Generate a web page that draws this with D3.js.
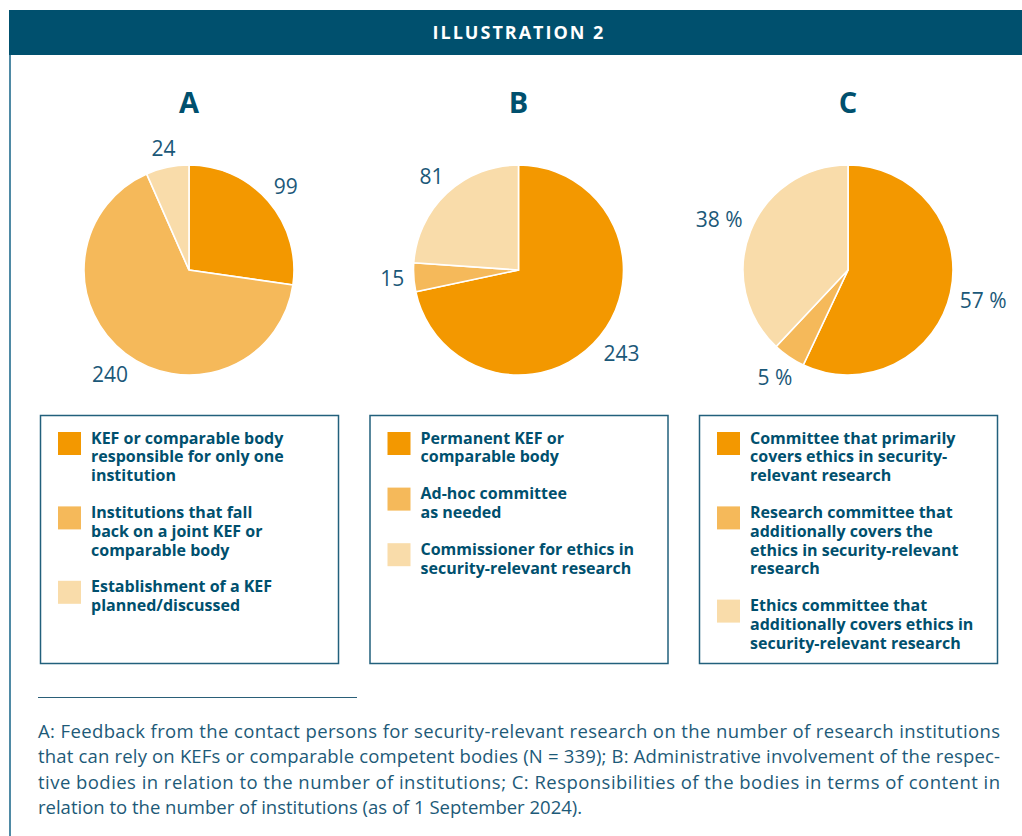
<!DOCTYPE html>
<meta charset="utf-8">
<style>
  body { margin: 0; background: #fff; }
  text { font-family: "Open Sans", "Noto Sans", sans-serif; }
</style>
<script src="https://d3js.org/d3.v7.min.js"></script>
<div id="chart"></div>
<script>

// panel letters
var panels = ["A", "B", "C"];

// slice values, clockwise from 12 o'clock
var valuesA = [99, 240, 24];
var valuesB = [243, 15, 81];
var valuesC = [57, 5, 38];
var suffix = ["", "", " %"];

// legend entries, already broken into lines
var legendA = [
  ["KEF or comparable body", "responsible for only one", "institution"],
  ["Institutions that fall", "back on a joint KEF or", "comparable body"],
  ["Establishment of a KEF", "planned/discussed"]
];
var legendB = [
  ["Permanent KEF or", "comparable body"],
  ["Ad-hoc committee", "as needed"],
  ["Commissioner for ethics in", "security-relevant research"]
];
var legendC = [
  ["Committee that primarily", "covers ethics in security-", "relevant research"],
  ["Research committee that", "additionally covers the", "ethics in security-relevant", "research"],
  ["Ethics committee that", "additionally covers ethics in", "security-relevant research"]
];

var footnote = [
  "A: Feedback from the contact persons for security-relevant research on the number of research institutions",
  "that can rely on KEFs or comparable competent bodies (N = 339); B: Administrative involvement of the respec-",
  "tive bodies in relation to the number of institutions; C: Responsibilities of the bodies in terms of content in",
  "relation to the number of institutions (as of 1 September 2024)."
];

var colors = ["#f39800", "#f5b95a", "#f9dcaa"];
var navy = "#00506e";

var width = 1022, height = 836;

var svg = d3.select("#chart")
  .append("svg")
    .attr("width", width)
    .attr("height", height);

// header bar + left rule
svg.append("rect")
  .attr("x", 9).attr("y", 10)
  .attr("width", width - 9).attr("height", 45)
  .attr("fill", navy);
svg.append("text")
  .attr("x", 519).attr("y", 39)
  .attr("text-anchor", "middle")
  .attr("fill", "#fff")
  .style("font-size", "18px")
  .style("font-weight", 700)
  .style("letter-spacing", "2px")
  .text("ILLUSTRATION 2");
svg.append("line")
  .attr("x1", 10).attr("x2", 10)
  .attr("y1", 55).attr("y2", height)
  .attr("stroke", "#4f8aa5")
  .attr("stroke-width", 2);

// one column per panel
var x = d3.scalePoint()
  .domain(panels)
  .range([189, 848]);

var radius = 105;
var cy = 270;

var pie = d3.pie().sort(null).value(function(d) { return d; });
var arc = d3.arc().innerRadius(0).outerRadius(radius);

var allValues = [valuesA, valuesB, valuesC];
var allLegends = [legendA, legendB, legendC];

panels.forEach(function(p, i) {
  var cx = x(p);

  // big letter
  svg.append("text")
    .attr("x", cx).attr("y", 113)
    .attr("text-anchor", "middle")
    .attr("fill", navy)
    .style("font-size", "29px")
    .style("font-weight", 700)
    .text(p);

  var g = svg.append("g")
    .attr("transform", "translate(" + cx + "," + cy + ")");

  var arcs = pie(allValues[i]);

  g.selectAll("path")
    .data(arcs)
    .enter()
    .append("path")
      .attr("d", arc)
      .attr("fill", function(d, j) { return colors[j]; })
      .attr("stroke", "#fff")
      .attr("stroke-width", 1.6);

  // value labels pushed just outside the rim
  g.selectAll("text.val")
    .data(arcs)
    .enter()
    .append("text")
      .attr("class", "val")
      .attr("fill", "#1b5878")
      .attr("text-anchor", "middle")
      .attr("dy", "0.36em")
      .style("font-size", "21px")
      .text(function(d) { return d.value + suffix[i]; })
      .each(function(d) {
        var w = this.getComputedTextLength(), h = 15;
        var a = (d.startAngle + d.endAngle) / 2;
        var dist = radius + 9 + (w / 2) * Math.abs(Math.sin(a)) + (h / 2) * Math.abs(Math.cos(a));
        d3.select(this)
          .attr("x", dist * Math.sin(a))
          .attr("y", -dist * Math.cos(a));
      });

  // legend box
  var bx = cx - 149;
  var lg = svg.append("g")
    .attr("transform", "translate(" + bx + ",415)");
  lg.append("rect")
    .attr("x", 0.5).attr("y", 0.5)
    .attr("width", 298).attr("height", 248)
    .attr("fill", "none")
    .attr("stroke", "#22607c")
    .attr("stroke-width", 1.5);

  var lineH = 18.8, itemGap = 18;
  var yy = 17;
  allLegends[i].forEach(function(lines, j) {
    lg.append("rect")
      .attr("x", 18).attr("y", yy)
      .attr("width", 23).attr("height", 23)
      .attr("fill", colors[j]);
    var t = lg.append("text")
      .attr("fill", navy)
      .style("font-size", "16px")
      .style("font-weight", 700);
    lines.forEach(function(l, k) {
      t.append("tspan")
        .attr("x", 51)
        .attr("y", yy + 11.5 + k * lineH)
        .text(l);
    });
    yy += lines.length * lineH + itemGap;
  });
});

// footnote
svg.append("line")
  .attr("x1", 38).attr("x2", 357)
  .attr("y1", 697.5).attr("y2", 697.5)
  .attr("stroke", "#2a5f78")
  .attr("stroke-width", 1);

svg.selectAll("text.foot")
  .data(footnote)
  .enter()
  .append("text")
    .attr("class", "foot")
    .attr("x", 38)
    .attr("y", function(d, i) { return 738 + i * 25.3; })
    .attr("fill", "#1d5a78")
    .style("font-size", "18.5px")
    .text(function(d) { return d; })
    .each(function(d, i) {
      if (i < footnote.length - 1) {
        d3.select(this)
          .attr("textLength", 962)
          .attr("lengthAdjust", "spacing");
      }
    });

</script>
